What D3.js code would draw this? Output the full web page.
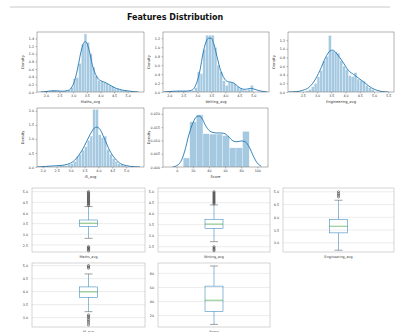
<!DOCTYPE html>
<html>
<head>
<meta charset="utf-8">
<script src="https://cdn.jsdelivr.net/npm/d3@7"></script>
<style>
  html, body { margin: 0; padding: 0; background: #fff; }
  svg { display: block; font-family: "DejaVu Sans", sans-serif; }
</style>
</head>
<body>
<svg id="chart" width="396" height="332"></svg>
<script>
// ---- data ----
const features = ["Maths_avg", "Writing_avg", "Engineering_avg", "IS_avg", "Score"];

const mathsEdges   = [2.0,2.1,2.2,2.3,2.4,2.5,2.6,2.7,2.8,2.9,3.0,3.1,3.2,3.3,3.4,3.5,3.6,3.7,3.8,3.9,4.0,4.1,4.2,4.3,4.4,4.5,4.6,4.7,4.8,4.9,5.0];
const mathsHeights = [0,0.02,0.05,0.04,0.02,0,0.01,0.02,0.05,0.12,0.35,0.38,0.75,1.25,1.52,1.30,1.0,0.65,0.42,0.30,0.28,0.25,0.22,0.18,0.15,0.10,0.08,0.05,0.04,0.03];
const mathsKdeX    = [1.8,2.0,2.2,2.4,2.6,2.8,2.9,3.0,3.1,3.2,3.3,3.4,3.45,3.5,3.6,3.7,3.8,3.9,4.0,4.1,4.2,4.3,4.4,4.5,4.6,4.7,4.8,4.9,5.0,5.2,5.4];
const mathsKdeY    = [0,0.01,0.03,0.03,0.02,0.04,0.08,0.2,0.42,0.75,1.1,1.3,1.32,1.28,1.05,0.72,0.5,0.36,0.3,0.27,0.24,0.2,0.16,0.12,0.09,0.07,0.05,0.04,0.03,0.01,0];

const writingEdges   = [2.0,2.1,2.2,2.3,2.4,2.5,2.6,2.7,2.8,2.9,3.0,3.1,3.2,3.3,3.4,3.5,3.6,3.7,3.8,3.9,4.0,4.1,4.2,4.3,4.4,4.5,4.6,4.7,4.8,4.9,5.0];
const writingHeights = [0.01,0.02,0.01,0.02,0.01,0.02,0.01,0.02,0.03,0.1,0.45,0.41,0.95,1.27,1.27,1.27,1.0,0.6,0.45,0.25,0.15,0.22,0.22,0.18,0.12,0.08,0.05,0.04,0.06,0.15];
const writingKdeX    = [1.8,2.0,2.3,2.6,2.8,2.9,3.0,3.1,3.2,3.3,3.4,3.5,3.6,3.7,3.8,3.9,4.0,4.1,4.2,4.3,4.4,4.5,4.6,4.7,4.8,4.9,5.0,5.2,5.5];
const writingKdeY    = [0,0.01,0.02,0.02,0.04,0.1,0.25,0.5,0.85,1.1,1.2,1.2,1.05,0.8,0.55,0.38,0.27,0.23,0.22,0.2,0.15,0.1,0.07,0.06,0.07,0.08,0.07,0.03,0];

const engEdges   = [2.6,2.7,2.8,2.9,3.0,3.1,3.2,3.3,3.4,3.5,3.6,3.7,3.8,3.9,4.0,4.1,4.2,4.3,4.4,4.5,4.6,4.7,4.8,4.9,5.0];
const engHeights = [0.03,0.06,0.12,0.2,0.35,0.5,0.72,0.82,1.31,0.95,0.93,0.9,0.72,0.6,0.52,0.38,0.36,0.45,0.3,0.27,0.25,0.15,0.1,0.06];
const engKdeX    = [2.0,2.3,2.5,2.7,2.9,3.1,3.3,3.45,3.55,3.7,3.9,4.1,4.3,4.5,4.7,4.9,5.1,5.3,5.5];
const engKdeY    = [0,0.01,0.04,0.1,0.25,0.5,0.8,0.95,0.97,0.88,0.7,0.5,0.4,0.3,0.2,0.1,0.04,0.01,0];

const isEdges   = [2.5,2.6,2.7,2.8,2.9,3.0,3.1,3.2,3.3,3.4,3.5,3.6,3.7,3.8,3.9,4.0,4.1,4.2,4.3,4.4,4.5,4.6,4.7,4.8,4.9,5.0];
const isHeights = [0.02,0.05,0.06,0.04,0.1,0.12,0.2,0.38,0.45,0.6,0.72,0.95,1.1,2.05,2.05,1.15,1.05,1.1,0.62,0.45,0.3,0.2,0.12,0.08,0.05];
const isKdeX    = [1.8,2.1,2.4,2.7,2.9,3.1,3.3,3.5,3.7,3.85,3.95,4.05,4.2,4.4,4.6,4.8,5.0,5.3,5.5];
const isKdeY    = [0,0.02,0.04,0.06,0.1,0.2,0.42,0.75,1.15,1.38,1.42,1.35,1.05,0.6,0.3,0.12,0.05,0.01,0];

const scoreEdges   = [8,16.2,24.4,32.6,40.8,49,57.2,65.4,73.6,81.8,90];
const scoreHeights = [0.0034,0.0170,0.0196,0.0125,0.0124,0.0124,0.0118,0.0072,0.0072,0.0134];
const scoreKdeX    = [-5,0,5,10,15,20,25,28,32,36,40,45,50,55,60,65,70,75,80,85,90,95,100,105];
const scoreKdeY    = [0,0.0005,0.002,0.006,0.012,0.0165,0.019,0.0192,0.018,0.0155,0.0138,0.013,0.0128,0.0128,0.0125,0.0112,0.0098,0.0095,0.0098,0.0095,0.0075,0.0042,0.0015,0.0003];

const histXTicks = [[2.0,2.5,3.0,3.5,4.0,4.5,5.0],[2.0,2.5,3.0,3.5,4.0,4.5,5.0],[2.5,3.0,3.5,4.0,4.5,5.0,5.5],[2.0,2.5,3.0,3.5,4.0,4.5,5.0],[0,20,40,60,80,100]];
const histYTicks = [[0,0.2,0.4,0.6,0.8,1.0,1.2,1.4],[0,0.2,0.4,0.6,0.8,1.0,1.2],[0,0.2,0.4,0.6,0.8,1.0,1.2],[0,0.5,1.0,1.5,2.0],[0,0.005,0.010,0.015,0.020]];

// box stats: [lower whisker, q1, median, q3, upper whisker]
const boxStats = [
  [2.81, 3.36, 3.52, 3.67, 4.30],
  [2.73, 3.34, 3.53, 3.75, 4.40],
  [2.71, 3.39, 3.65, 3.92, 4.67],
  [3.23, 3.78, 3.99, 4.18, 4.68],
  [7.6, 26.1, 41.9, 61.9, 90.4]
];
const boxOutliers = [
  [2.23,2.28,2.33,2.38,2.42,4.35,4.4,4.45,4.5,4.55,4.6,4.65,4.7,4.75,4.8,4.85,4.9,4.95,5.0],
  [2.32,2.38,2.44,2.5,4.45,4.5,4.55,4.6,4.65,4.7,4.75,4.8,4.85,4.9,4.95,5.0],
  [4.8,4.87,4.93,5.0],
  [2.72,2.8,2.87,2.93,3.0,3.05,3.1,4.9,4.95,5.0],
  []
];
const boxYTicks = [[2.5,3.0,3.5,4.0,4.5,5.0],[2.5,3.0,3.5,4.0,4.5,5.0],[3.0,3.5,4.0,4.5,5.0],[3.0,3.5,4.0,4.5,5.0],[20,40,60,80]];

// ---- layout ----
const histPanels = [
  {x0:37,  x1:144, y0:32,  y1:92,  xd:[1.67,5.6],   yd:[0,1.57],   fx:".1f", fy:".1f"},
  {x0:163, x1:269, y0:32,  y1:92,  xd:[1.775,5.56], yd:[0,1.34],   fx:".1f", fy:".1f"},
  {x0:288, x1:394, y0:32,  y1:92,  xd:[1.98,5.70],  yd:[0,1.39],   fx:".1f", fy:".1f"},
  {x0:37,  x1:144, y0:108, y1:167, xd:[1.795,5.64], yd:[0,2.1],    fx:".1f", fy:".1f"},
  {x0:163, x1:268, y0:108, y1:167, xd:[-17,113.3],  yd:[0,0.0222], fx:"d",   fy:".3f"}
];
const histData = [
  [mathsEdges, mathsHeights, mathsKdeX, mathsKdeY],
  [writingEdges, writingHeights, writingKdeX, writingKdeY],
  [engEdges, engHeights, engKdeX, engKdeY],
  [isEdges, isHeights, isKdeX, isKdeY],
  [scoreEdges, scoreHeights, scoreKdeX, scoreKdeY]
];
const boxPanels = [
  {x0:32,  x1:145, y0:188, y1:252, yd:[2.17,5.17]},
  {x0:158, x1:270, y0:188, y1:252, yd:[2.26,5.17]},
  {x0:283, x1:394, y0:188, y1:252, yd:[2.64,5.15]},
  {x0:32,  x1:145, y0:263, y1:327, yd:[2.64,5.10]},
  {x0:158, x1:270, y0:263, y1:327, yd:[3.9,94.7]}
];

const svg = d3.select("#chart");
const blue = "#1f77b4";

svg.append("line").attr("x1", 10).attr("x2", 390).attr("y1", 7).attr("y2", 7)
  .attr("stroke", "#c8c8c8").attr("stroke-width", 1);

svg.append("text").attr("x", 175).attr("y", 19.5).attr("text-anchor", "middle")
  .attr("font-size", 8).attr("font-weight", "bold").attr("fill", "#111")
  .text("Features Distribution");

function styleAxis(g) {
  g.select(".domain").remove();
  g.selectAll(".tick line").attr("stroke", "#555").attr("stroke-width", 0.4);
  g.selectAll(".tick text").attr("font-size", 3.3).attr("fill", "#333").attr("font-family", "DejaVu Sans");
}

histPanels.forEach((p, i) => {
  const [edges, heights, kx, ky] = histData[i];
  const x = d3.scaleLinear().domain(p.xd).range([p.x0, p.x1]);
  const y = d3.scaleLinear().domain(p.yd).range([p.y1, p.y0]);
  const g = svg.append("g");

  const clipId = "clip" + i;
  g.append("clipPath").attr("id", clipId).append("rect")
    .attr("x", p.x0).attr("y", p.y0).attr("width", p.x1 - p.x0).attr("height", p.y1 - p.y0);

  const plot = g.append("g").attr("clip-path", `url(#${clipId})`);
  plot.selectAll("rect.bar").data(heights).join("rect")
    .attr("class", "bar")
    .attr("x", (d, j) => x(edges[j]))
    .attr("width", (d, j) => Math.max(0, x(edges[j + 1]) - x(edges[j])))
    .attr("y", d => y(d))
    .attr("height", d => p.y1 - y(d))
    .attr("fill", blue).attr("fill-opacity", 0.4)
    .attr("stroke", "#fff").attr("stroke-width", 0.3);

  const pts = kx.map((v, j) => [v, ky[j]]);
  plot.append("path").datum(pts)
    .attr("d", d3.line().x(d => x(d[0])).y(d => y(d[1])).curve(d3.curveMonotoneX))
    .attr("fill", "none").attr("stroke", blue).attr("stroke-width", 0.9);

  g.append("rect").attr("x", p.x0).attr("y", p.y0)
    .attr("width", p.x1 - p.x0).attr("height", p.y1 - p.y0)
    .attr("fill", "none").attr("stroke", "#444").attr("stroke-width", 0.4);

  g.append("g").attr("transform", `translate(0,${p.y1})`)
    .call(d3.axisBottom(x).tickValues(histXTicks[i]).tickFormat(d3.format(p.fx)).tickSize(1.5).tickPadding(1.5))
    .call(styleAxis);
  g.append("g").attr("transform", `translate(${p.x0},0)`)
    .call(d3.axisLeft(y).tickValues(histYTicks[i]).tickFormat(d3.format(p.fy)).tickSize(1.5).tickPadding(1.5))
    .call(styleAxis);

  g.append("text").attr("x", (p.x0 + p.x1) / 2).attr("y", p.y1 + 11)
    .attr("text-anchor", "middle").attr("font-size", 3.6).attr("fill", "#333")
    .text(features[i]);
  g.append("text").attr("transform", `translate(${p.x0 - 13},${(p.y0 + p.y1) / 2}) rotate(-90)`)
    .attr("text-anchor", "middle").attr("font-size", 3.6).attr("fill", "#333")
    .text("Density");
});

boxPanels.forEach((p, i) => {
  const [lo, q1, med, q3, hi] = boxStats[i];
  const y = d3.scaleLinear().domain(p.yd).range([p.y1, p.y0]);
  const x = d3.scaleBand().domain([features[i]]).range([p.x0, p.x1]);
  const cx = x(features[i]) + x.bandwidth() / 2;
  const bw = 18, cw = 8;
  const g = svg.append("g");

  g.append("g").selectAll("line").data(boxYTicks[i]).join("line")
    .attr("x1", p.x0).attr("x2", p.x1)
    .attr("y1", d => y(d)).attr("y2", d => y(d))
    .attr("stroke", "#d9d9d9").attr("stroke-width", 0.5);

  g.append("rect").attr("x", p.x0).attr("y", p.y0)
    .attr("width", p.x1 - p.x0).attr("height", p.y1 - p.y0)
    .attr("fill", "none").attr("stroke", "#aaa").attr("stroke-width", 0.5);

  g.append("line").attr("x1", cx).attr("x2", cx).attr("y1", y(hi)).attr("y2", y(q3))
    .attr("stroke", blue).attr("stroke-width", 0.5);
  g.append("line").attr("x1", cx).attr("x2", cx).attr("y1", y(q1)).attr("y2", y(lo))
    .attr("stroke", blue).attr("stroke-width", 0.5);
  g.selectAll("line.cap").data([lo, hi]).join("line").attr("class", "cap")
    .attr("x1", cx - cw / 2).attr("x2", cx + cw / 2)
    .attr("y1", d => y(d)).attr("y2", d => y(d))
    .attr("stroke", "#444").attr("stroke-width", 0.5);
  g.append("rect").attr("x", cx - bw / 2).attr("y", y(q3))
    .attr("width", bw).attr("height", y(q1) - y(q3))
    .attr("fill", "none").attr("stroke", blue).attr("stroke-width", 0.5);
  g.append("line").attr("x1", cx - bw / 2).attr("x2", cx + bw / 2)
    .attr("y1", y(med)).attr("y2", y(med))
    .attr("stroke", "#2ca02c").attr("stroke-width", 0.6);
  g.selectAll("circle").data(boxOutliers[i]).join("circle")
    .attr("cx", cx).attr("cy", d => y(d)).attr("r", 1.1)
    .attr("fill", "none").attr("stroke", "#222").attr("stroke-width", 0.5);

  g.append("g").attr("transform", `translate(${p.x0},0)`)
    .call(d3.axisLeft(y).tickValues(boxYTicks[i]).tickFormat(d3.format(i === 4 ? "d" : ".1f")).tickSize(0).tickPadding(4))
    .call(styleAxis);
  g.append("text").attr("x", cx).attr("y", p.y1 + 5.5)
    .attr("text-anchor", "middle").attr("font-size", 3.4).attr("fill", "#333")
    .text(features[i]);
});
</script>
</body>
</html>
